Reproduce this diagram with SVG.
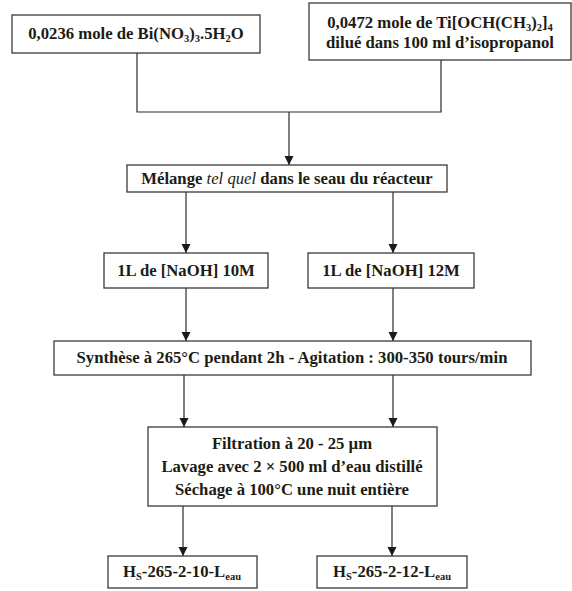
<svg xmlns="http://www.w3.org/2000/svg" width="572" height="591" viewBox="0 0 572 591">
<style>
.box{fill:#ffffff;stroke:#3a3a3a;stroke-width:1.3}
.t{font-family:'Liberation Serif',serif;font-weight:bold;font-size:16.7px;fill:#1c1c14;text-anchor:middle}
.ln{fill:none;stroke:#2a2a2a;stroke-width:1.2}
.sub{font-size:10.5px}
</style>
<defs>
<marker id="ah" markerWidth="10" markerHeight="10" refX="9" refY="5" orient="auto" markerUnits="userSpaceOnUse">
<path d="M0,0.5 L9,5 L0,9.5 Z" fill="#1a1a1a"/>
</marker>
</defs>
<rect width="572" height="591" fill="#ffffff"/>
<g id="connectors">
<polyline class="ln" points="137,53 137,112 441,112 441,60"/>
<line class="ln" x1="289" y1="112" x2="289" y2="165" marker-end="url(#ah)"/>
<line class="ln" x1="186" y1="192" x2="186" y2="253" marker-end="url(#ah)"/>
<line class="ln" x1="393" y1="192" x2="393" y2="253" marker-end="url(#ah)"/>
<line class="ln" x1="186" y1="288" x2="186" y2="341" marker-end="url(#ah)"/>
<line class="ln" x1="393" y1="288" x2="393" y2="341" marker-end="url(#ah)"/>
<line class="ln" x1="184" y1="375" x2="184" y2="427" marker-end="url(#ah)"/>
<line class="ln" x1="393" y1="375" x2="393" y2="427" marker-end="url(#ah)"/>
<line class="ln" x1="183" y1="506" x2="183" y2="556" marker-end="url(#ah)"/>
<line class="ln" x1="392" y1="506" x2="392" y2="556" marker-end="url(#ah)"/>
</g>
<g id="n1">
<rect class="box" x="12" y="15" width="248" height="38"/>
<text class="t" x="136" y="39">0,0236 mole de Bi(NO<tspan class="sub" dy="3">3</tspan><tspan dy="-3">)</tspan><tspan class="sub" dy="3">3</tspan><tspan dy="-3">.5H</tspan><tspan class="sub" dy="3">2</tspan><tspan dy="-3">O</tspan></text>
</g>
<g id="n2">
<rect class="box" x="309" y="3" width="262" height="57"/>
<text class="t" x="440" y="28">0,0472 mole de Ti[OCH(CH<tspan class="sub" dy="3">3</tspan><tspan dy="-3">)</tspan><tspan class="sub" dy="3">2</tspan><tspan dy="-3">]</tspan><tspan class="sub" dy="3">4</tspan></text>
<text class="t" x="440" y="48">dilué dans 100 ml d’isopropanol</text>
</g>
<g id="n3">
<rect class="box" x="127" y="165" width="320" height="27"/>
<text class="t" x="287" y="184">Mélange <tspan font-style="italic" font-weight="normal">tel quel</tspan> dans le seau du réacteur</text>
</g>
<g id="n4">
<rect class="box" x="104" y="253" width="164" height="35"/>
<text class="t" x="186" y="276">1L de [NaOH] 10M</text>
</g>
<g id="n5">
<rect class="box" x="308" y="253" width="166" height="35"/>
<text class="t" x="391" y="276">1L de [NaOH] 12M</text>
</g>
<g id="n6">
<rect class="box" x="54" y="341" width="477" height="34"/>
<text class="t" x="292" y="363">Synthèse à 265°C pendant 2h - Agitation : 300-350 tours/min</text>
</g>
<g id="n7">
<rect class="box" x="148" y="427" width="289" height="79"/>
<text class="t" x="292" y="449">Filtration à 20 - 25 µm</text>
<text class="t" x="292" y="472">Lavage avec 2 × 500 ml d’eau distillé</text>
<text class="t" x="292" y="495">Séchage à 100°C une nuit entière</text>
</g>
<g id="n8">
<rect class="box" x="108" y="556" width="149" height="32"/>
<text class="t" x="182" y="577">H<tspan class="sub" dy="3">S</tspan><tspan dy="-3">-265-2-10-L</tspan><tspan class="sub" dy="3">eau</tspan></text>
</g>
<g id="n9">
<rect class="box" x="317" y="556" width="150" height="32"/>
<text class="t" x="392" y="577">H<tspan class="sub" dy="3">S</tspan><tspan dy="-3">-265-2-12-L</tspan><tspan class="sub" dy="3">eau</tspan></text>
</g>
</svg>
